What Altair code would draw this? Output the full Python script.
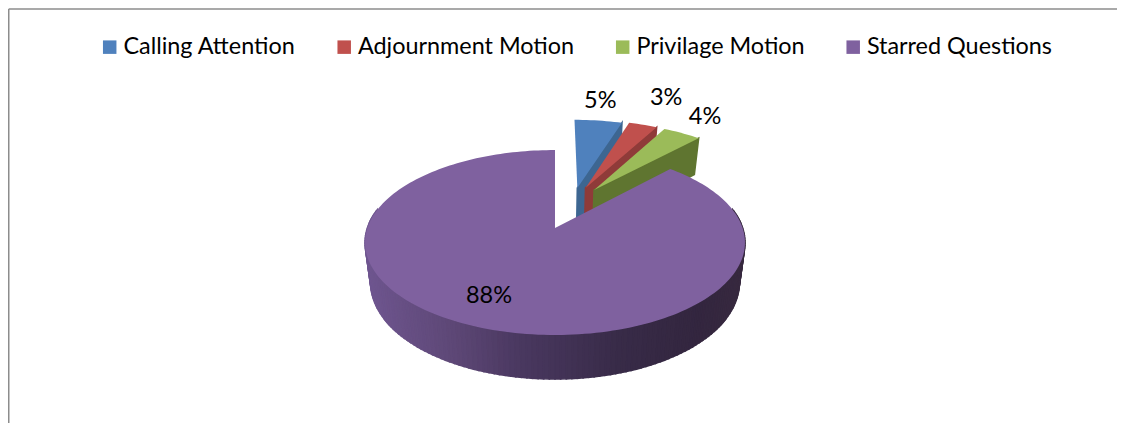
import math
import altair as alt

categories = ["Calling Attention", "Adjournment Motion", "Privilage Motion", "Starred Questions"]
shares = [5, 3, 4, 88]
labels = ["5%", "3%", "4%", "88%"]
face_colors = ["#4F81BD", "#C0504D", "#9BBB59", "#7F619F"]
wall_colors = ["#3D6691", "#8F3B39", "#5F7530"]
explode_u = [0.128, 0.175, 0.223, 0.0]
explode_v = [-0.477, -0.477, -0.451, 0.0]
label_radius = [1.34, 1.505, 1.32, 0.745]
label_angle = [7.8, 23.1, 35.6, 205.0]
wall_stops = [(364, "#6F5690"), (450, "#5E4877"), (520, "#4A3860"), (620, "#382B48"), (700, "#33263F"), (744, "#37293F")]

# page pixels -> drawing pixels
OX, OY = 8, 8
# perspective model of the tilted pie
CX, CY, A, B, P, D, S = 555.0, 228.0, 187.6, 90.2, 0.157, 39.8, 0.03


def project(u, v, depth=0.0):
    w = 1 - P * v
    k = 1 - S * depth
    return [CX + A * k * u / w - OX, CY + (B * k * v + D * depth) / w - OY]


def hexrgb(h):
    return [int(h[i:i + 2], 16) for i in (1, 3, 5)]


def wall_color(x):
    for (x0, c0), (x1, c1) in zip(wall_stops, wall_stops[1:]):
        if x <= x1:
            t = max(0.0, (x - x0) / (x1 - x0))
            a, b = hexrgb(c0), hexrgb(c1)
            return "#%02x%02x%02x" % tuple(round(p + (q - p) * t) for p, q in zip(a, b))
    return wall_stops[-1][1]


def feature(ring, **props):
    ring = ring + [ring[0]]
    return {"type": "Feature", "properties": props, "geometry": {"type": "Polygon", "coordinates": [ring]}}


def disk(theta):
    return math.sin(math.radians(theta)), -math.cos(math.radians(theta))


starts = []
acc = 0.0
for s in shares:
    starts.append(acc)
    acc += s * 3.6

faces, walls = [], []
for i, cat in enumerate(categories):
    a0, a1 = starts[i], starts[i] + shares[i] * 3.6
    ou, ov = explode_u[i], explode_v[i]
    n = max(4, int((a1 - a0) / 1.5))
    arc = []
    for j in range(n + 1):
        du, dv = disk(a0 + (a1 - a0) * j / n)
        arc.append((ou + du, ov + dv))
    faces.append(feature([project(ou, ov)] + [project(u, v) for u, v in arc], category=cat))
    if i < 3:
        eu, ev = arc[-1]
        walls.append(feature([project(ou, ov), project(eu, ev), project(eu, ev, 1), project(ou, ov, 1)],
                             fill=wall_colors[i]))

# purple rim, strip by strip, left to right across the front
theta = 282.0
while theta > 78.0:
    t2 = theta - 1.5
    u1, v1 = disk(theta)
    u2, v2 = disk(t2)
    x_mid = project((u1 + u2) / 2, (v1 + v2) / 2)[0] + OX
    walls.append(feature([project(u1, v1), project(u2, v2), project(u2, v2, 1), project(u1, v1, 1)],
                         fill=wall_color(x_mid)))
    theta = t2

label_rows = []
for i, txt in enumerate(labels):
    du, dv = disk(label_angle[i])
    px = project(explode_u[i] + label_radius[i] * du, explode_v[i] + label_radius[i] * dv)
    label_rows.append({"x": px[0], "y": px[1], "label": txt})

PROJ = dict(type="identity", scale=1, translate=[0, 0])

wall_layer = alt.Chart(alt.Data(values=walls, format=alt.DataFormat(type="json"))).mark_geoshape(
    strokeWidth=1.6
).encode(
    fill=alt.Fill("properties.fill:N", scale=None),
    stroke=alt.Stroke("properties.fill:N", scale=None),
).project(**PROJ)

face_layer = alt.Chart(alt.Data(values=faces, format=alt.DataFormat(type="json"))).mark_geoshape(
    strokeWidth=0
).encode(
    fill=alt.Fill(
        "properties.category:N",
        scale=alt.Scale(domain=categories, range=face_colors),
        legend=alt.Legend(
            title=None, orient="none", legendX=90, legendY=27, direction="horizontal",
            symbolType="square", symbolSize=182, symbolStrokeWidth=0, labelFont="Lato", labelFontSize=23.4,
            labelColor="#000000", labelOffset=2, columnPadding=36.5, columns=4, labelLimit=400, padding=0,
        ),
    )
).project(**PROJ)

text_layer = alt.Chart(alt.Data(values=label_rows)).mark_text(
    font="Lato", fontSize=23.5, color="#000000", align="center", baseline="middle"
).encode(
    x=alt.X("x:Q", scale=None, axis=None),
    y=alt.Y("y:Q", scale=None, axis=None),
    text="label:N",
)

border_rows = [
    {"x": 0.7, "x2": 1125 - OX, "y": 9 - OY, "y2": 9 - OY},
    {"x": 0.7, "x2": 0.7, "y": 9 - OY, "y2": 423 - OY},
]
border_layer = alt.Chart(alt.Data(values=border_rows)).mark_rule(color="#8C8C8C", strokeWidth=1.6).encode(
    x=alt.X("x:Q", scale=None, axis=None),
    x2="x2:Q",
    y=alt.Y("y:Q", scale=None, axis=None),
    y2="y2:Q",
)

chart = alt.layer(border_layer, wall_layer, face_layer, text_layer).properties(
    width=1109, height=415, padding=0,
    autosize=alt.AutoSizeParams(type="none"), background="#ffffff",
).configure_view(stroke=None)

chart.save("out.html", embed_options={"renderer": "svg", "actions": False})
